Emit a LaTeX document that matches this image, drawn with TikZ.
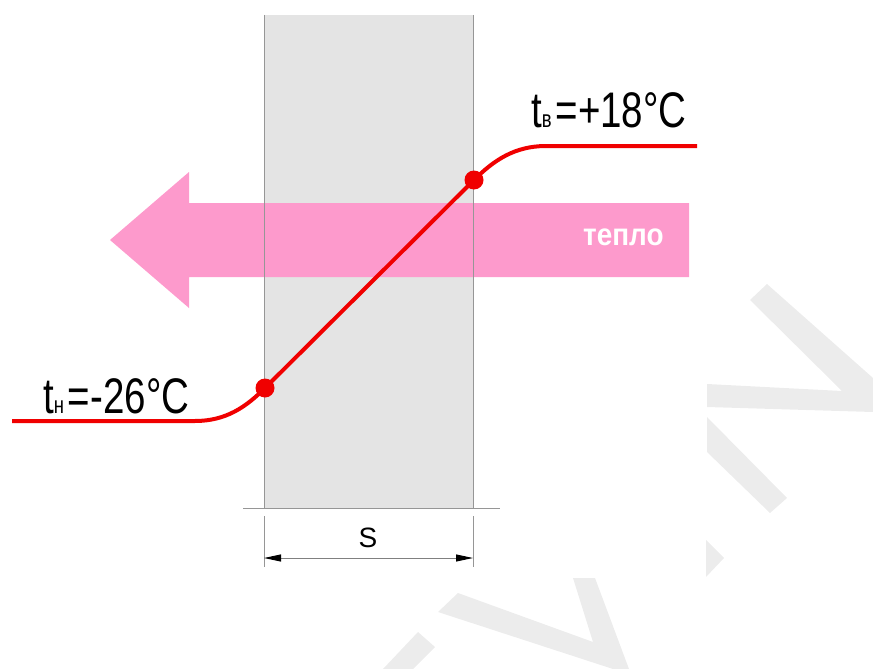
\documentclass[tikz,border=0pt]{standalone}
\usepackage{fontspec}
\setmainfont{Liberation Sans}
\usetikzlibrary{arrows.meta,positioning}
\definecolor{tempred}{RGB}{240,0,0}
\definecolor{heatpink}{RGB}{253,154,204}
\definecolor{wallgray}{RGB}{228,228,228}
\definecolor{edgegray}{RGB}{150,150,150}
\definecolor{markgray}{RGB}{236,236,236}
\tikzset{
  wall/.style={fill=wallgray},
  walledge/.style={draw=edgegray, line width=1pt},
  heatarr/.style={fill=heatpink},
  tcurve/.style={tempred, line width=4pt},
  tdot/.style={circle, fill=tempred, minimum size=19pt, inner sep=0pt},
  dimline/.style={draw=edgegray, line width=0.8pt},
  dimarr/.style={{Triangle[length=17pt,width=7pt,color=black]}-{Triangle[length=17pt,width=7pt,color=black]}, draw=gray, line width=1pt},
  tlbl/.style={inner sep=0pt, anchor=base west, font=\fontsize{50}{50}\selectfont},
}
\newcommand{\tsub}[1]{{\fontsize{24}{24}\selectfont #1}\kern5pt}

\begin{document}
\begin{tikzpicture}[x=1pt, y=-1pt]
    \useasboundingbox (0,0) rectangle (873,669);
    % faint background marks
    \begin{scope}[markgray]
      \fill (750,300) -- (767,284) -- (873,378) -- (873,412) -- (707,407) -- (707,384) -- (842,391) -- cycle;
      \fill (707,417) -- (787,498) -- (770,513) -- (707,452) -- cycle;
      \fill (706,540) -- (724,558) -- (706,577) -- cycle;
      \fill (438,612) -- (458,593) -- (593,642) -- (573,578) -- (595,578) -- (629,669) -- (613,669) -- cycle;
      \fill (383,669) -- (418,632) -- (435,647) -- (413,669) -- cycle;
    \end{scope}
    % wall
    \fill[wall] (264,15) rectangle (473,508);
    % heat flow
    \fill[heatarr] (689,203) -- (189,203) -- (189,172) -- (110,240) -- (189,308) -- (189,277) -- (689,277) -- cycle;
    \node[inner sep=0pt, anchor=base west, text=white, font=\fontsize{31}{31}\selectfont\bfseries] (heat) at (583,245) {\scalebox{0.9}[1]{тепло}};
    % wall edges
    \draw[walledge] (264,15) -- (264,508);
    \draw[walledge] (473,15) -- (473,508);
    \draw[dimline] (243,508) -- (500,508);
    % thickness
    \coordinate (dl) at (264,558);
    \coordinate (dr) at (473,558);
    \draw[dimline] (264,516) -- (264,567);
    \draw[dimline] (473,516) -- (473,567);
    \draw[dimarr] (dl) -- (dr);
    \node[inner sep=0pt, anchor=base, font=\fontsize{28}{28}\selectfont] (thk) at (368,547) {S};
    % temperature line
    \coordinate (tout) at (12,421);
    \coordinate (pout) at (265,388);
    \coordinate (pin) at (474,180);
    \coordinate (tin) at (697,146);
    \draw[tcurve] (tout) -- (195,421) .. controls (226,421) and (246,407) .. (pout)
          -- (pin) .. controls (494,160) and (515,146) .. (546,146) -- (tin);
    \node[tdot] (dout) at (pout) {};
    \node[tdot] (din) at (pin) {};
    % labels
    \node[tlbl] (lout) at (43,413) {\scalebox{0.77}[1]{t\tsub{н}=-26°C}};
    \node[tlbl] (lin) at (531,128) {\scalebox{0.77}[1]{t\tsub{в}=+18°C}};
  \end{tikzpicture}
\end{document}
